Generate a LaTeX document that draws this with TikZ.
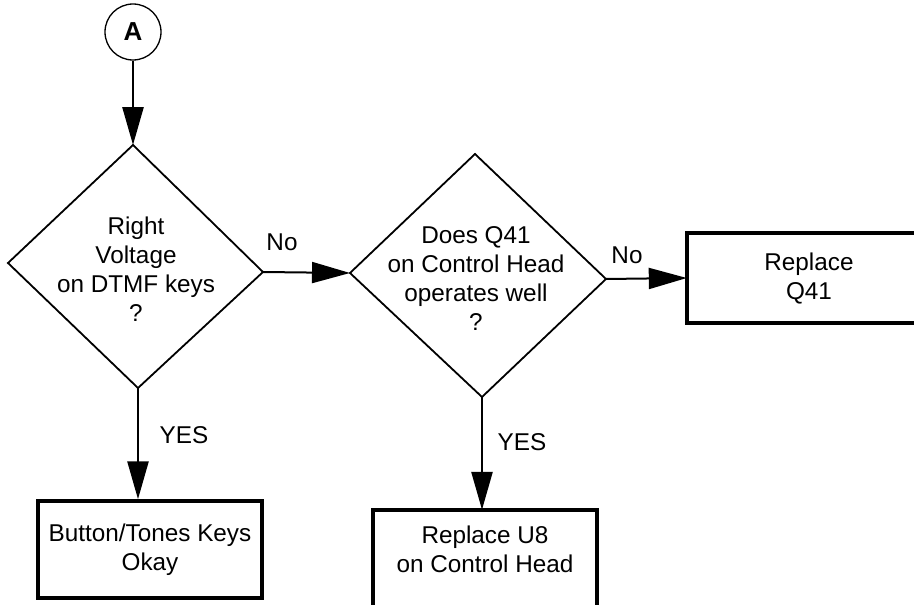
\documentclass[tikz,border=0pt]{standalone}
\usepackage{fontspec}
\setmainfont{Liberation Sans}
\usetikzlibrary{arrows.meta}
\begin{document}
\begin{tikzpicture}[x=1pt,y=-1pt,
  txt/.style={font=\fontsize{24.3}{29}\selectfont, align=center, inner sep=0pt},
  lbl/.style={font=\fontsize{24.3}{29}\selectfont, inner sep=0pt},
  dia/.style={draw, line width=1.8pt, line join=miter},
  boxx/.style={draw, line width=3.5pt, rectangle, inner sep=0pt},
  conn/.style={line width=2.6pt, -{Triangle[length=38pt,width=21pt]}},
  conh/.style={line width=2pt, -{Triangle[length=38pt,width=21pt]}}
]
\useasboundingbox (0,0) rectangle (914,605);
\clip (0,0) rectangle (914,605);
% connector circle
\node[draw, circle, line width=1.3pt, minimum size=56pt, inner sep=0pt,
      font=\fontsize{26}{30}\selectfont\bfseries] (A) at (133,32) {A};
% diamond 1
\coordinate (d1t) at (133,145);
\coordinate (d1l) at (8,263);
\coordinate (d1r) at (263,272);
\coordinate (d1b) at (138,388);
\draw[dia] (d1t) -- (d1r) -- (d1b) -- (d1l) -- cycle;
\node[txt] (q1) at (136,269) {Right\\Voltage\\on DTMF keys\\?};
% diamond 2
\coordinate (d2t) at (475,154);
\coordinate (d2l) at (350,273);
\coordinate (d2r) at (606,279);
\coordinate (d2b) at (482,397);
\draw[dia] (d2t) -- (d2r) -- (d2b) -- (d2l) -- cycle;
\node[txt] (q2) at (476,279) {Does Q41\\on Control Head\\operates well\\?};
% boxes
\node[boxx, minimum width=224pt, minimum height=97pt, txt] (b1) at (150,549.5)
  {Button/Tones Keys\\Okay};
\node[minimum width=224pt, minimum height=120pt, inner sep=0pt] (b2) at (485,570) {};
\draw[line width=3.5pt, line join=miter] (b2.south west) -- (b2.north west) -- (b2.north east) -- (b2.south east);
\node[txt] (b2t) at (485,549) {Replace U8\\on Control Head};
\node[minimum width=300pt, minimum height=90pt, inner sep=0pt] (b3) at (837,278) {};
\draw[line width=3.5pt, line join=miter] (b3.north east) -- (b3.north west) -- (b3.south west) -- (b3.south east);
\node[txt] (b3t) at (809,278) {Replace\\Q41};
% connectors
\draw[conn] (A.south) -- (d1t);
\draw[conn] (d1b) -- (d1b |- b1.north);
\draw[conh] (d1r) -- (d2l);
\draw[conn] (d2b) -- (d2b |- b2.north);
\draw[conh] (d2r) -- (b3.west);
% labels
\node[lbl] (no1) at (282,242) {No};
\node[lbl] (yes1) at (184,435) {YES};
\node[lbl] (yes2) at (522,442) {YES};
\node[lbl] (no2) at (627,255) {No};
\end{tikzpicture}
\end{document}
